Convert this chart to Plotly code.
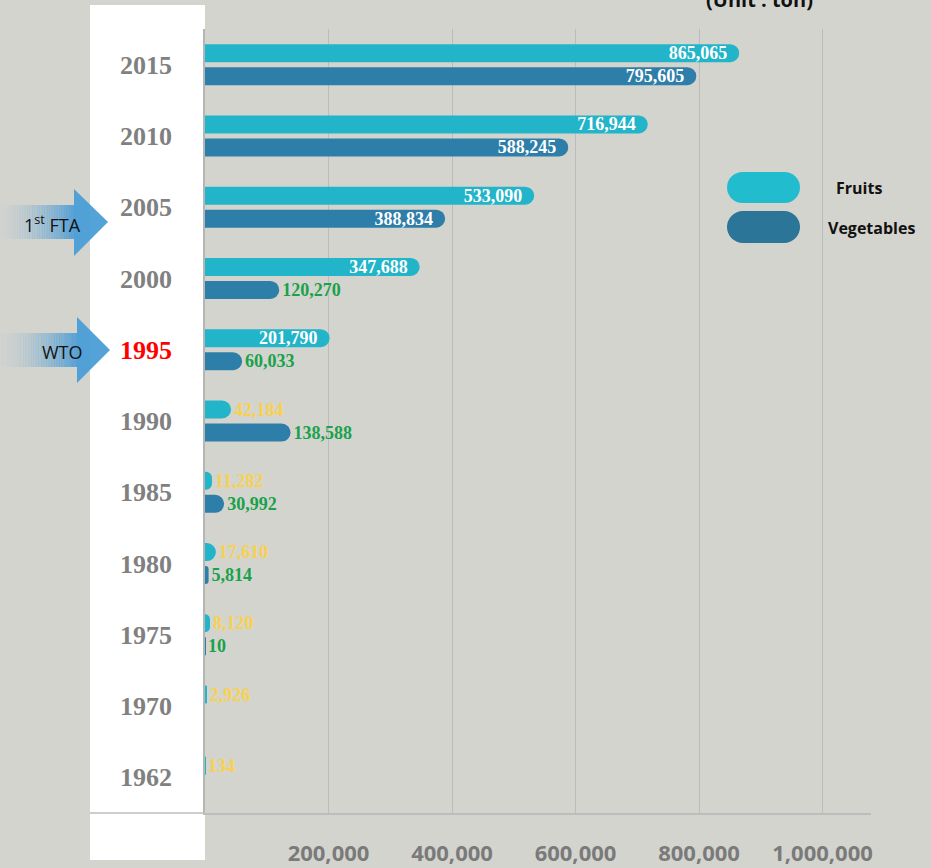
import plotly.graph_objects as go

# ---------------- data ----------------
years = ["1962", "1970", "1975", "1980", "1985", "1990", "1995", "2000", "2005", "2010", "2015"]
fruits = [134, 2926, 8120, 17610, 11282, 42184, 201790, 347688, 533090, 716944, 865065]
vegetables = [None, None, 10, 5814, 30992, 138588, 60033, 120270, 388834, 588245, 795605]
x_tickvals = [200000, 400000, 600000, 800000, 1000000]
x_ticktext = ["200,000", "400,000", "600,000", "800,000", "1,000,000"]
highlight_year = "1995"
inside_threshold = 150000

# ---------------- styling ----------------
BG = "#d4d4cf"
FRUIT_C = "#22b4c8"
VEG_C = "#2e7eaa"
YELLOW = "#f8d14e"
GREEN = "#18a24b"

PL, PT, PW, PH = 205, 29, 666, 784  # plot area in pixels
BAR_W = 0.2526
FRUIT_OFF = 0.035
VEG_OFF = -0.288


def px(xp):
    return (xp - PL) / PW


def py(yp):
    return (PT + PH - yp) / PH


def labels(vals):
    out = []
    for v in vals:
        if v is None:
            out.append("")
        elif v >= inside_threshold:
            out.append(f"{v:,}&nbsp;&nbsp;")
        else:
            out.append(f"{v:,}")
    return out


def positions(vals):
    return [("inside" if (v or 0) >= inside_threshold else "outside") for v in vals]


def colors(vals, outside_color):
    return [("white" if (v or 0) >= inside_threshold else outside_color) for v in vals]


fig = go.Figure()

for vals, name, col, out_col, off in [
    (vegetables, "Vegetables", VEG_C, GREEN, VEG_OFF),
    (fruits, "Fruits", FRUIT_C, YELLOW, FRUIT_OFF),
]:
    # visible rounded bar
    fig.add_trace(go.Bar(
        y=years, x=vals, orientation="h", name=name,
        width=BAR_W, offset=off,
        marker=dict(color=col, cornerradius="50%", line=dict(width=0)),
        showlegend=False, hoverinfo="skip",
    ))
    # label carrier (same bar geometry, transparent, square corners so text keeps its size)
    fig.add_trace(go.Bar(
        y=years, x=vals, orientation="h", name=name + " labels",
        width=BAR_W, offset=off,
        marker=dict(color="rgba(0,0,0,0)", line=dict(width=0)),
        text=labels(vals), textposition=positions(vals),
        insidetextanchor="end", constraintext="none", cliponaxis=False,
        textfont=dict(family="Liberation Serif", size=18, weight="bold", color=colors(vals, out_col)),
        showlegend=False,
    ))

ticktext_y = [(f'<span style="color:#ff0000">{y}</span>' if y == highlight_year else y) for y in years]

shapes = []
# white year panel
shapes.append(dict(type="rect", xref="paper", yref="paper", x0=px(90), x1=px(205), y0=py(860), y1=py(5),
                   fillcolor="white", line=dict(width=0), layer="below"))
shapes.append(dict(type="line", xref="paper", yref="paper", x0=px(90), x1=px(205), y0=py(813), y1=py(813),
                   line=dict(color="#bdbdbd", width=1.5), layer="above"))


def arrow(body_y0, body_y1, head_x0, tip_x, head_y0, tip_y, head_y1):
    n = 30
    x_start = 0
    for i in range(n):
        xa = x_start + (head_x0 - x_start) * i / n
        xb = x_start + (head_x0 - x_start) * (i + 1) / n
        op = 0.02 + 0.85 * ((i + 1) / n) ** 1.8
        shapes.append(dict(type="rect", xref="paper", yref="paper", x0=px(xa), x1=px(xb + 0.4),
                           y0=py(body_y1), y1=py(body_y0),
                           fillcolor=f"rgba(74,155,212,{op:.3f})", line=dict(width=0), layer="above"))
    path = f"M {px(head_x0)},{py(head_y0)} L {px(tip_x)},{py(tip_y)} L {px(head_x0)},{py(head_y1)} Z"
    shapes.append(dict(type="path", xref="paper", yref="paper", path=path,
                       fillcolor="rgba(74,158,215,0.95)", line=dict(width=0), layer="above"))


arrow(205, 239, 74, 108, 189, 222, 256)
arrow(333, 367, 77, 110, 317, 350, 383)


def pill(x0, x1, y0, y1, color):
    d = y1 - y0
    shapes.append(dict(type="rect", xref="paper", yref="paper", x0=px(x0 + d / 2), x1=px(x1 - d / 2),
                       y0=py(y1), y1=py(y0), fillcolor=color, line=dict(width=0)))
    shapes.append(dict(type="circle", xref="paper", yref="paper", x0=px(x0), x1=px(x0 + d),
                       y0=py(y1), y1=py(y0), fillcolor=color, line=dict(width=0)))
    shapes.append(dict(type="circle", xref="paper", yref="paper", x0=px(x1 - d), x1=px(x1),
                       y0=py(y1), y1=py(y0), fillcolor=color, line=dict(width=0)))


pill(727, 800, 172, 203, "#22bccf")
pill(727, 800, 211, 243, "#2a7598")


def note(text, xc, yc, size, bold=False, yanchor="middle"):
    return dict(text=text, xref="paper", yref="paper", x=px(xc), y=py(yc), showarrow=False,
                xanchor="center", yanchor=yanchor,
                font=dict(family="Open Sans", size=size, color="#111111",
                          weight="bold" if bold else "normal"))


annotations = [
    note("1<sup>st</sup> FTA", 52, 224, 18),
    note("WTO", 62, 352, 18),
    note("Fruits", 859, 188, 16, bold=True),
    note("Vegetables", 871, 228, 16, bold=True),
    note("(Unit : ton)", 759, 15, 20, bold=True, yanchor="bottom"),
]

fig.update_layout(
    width=931, height=868,
    margin=dict(l=PL, r=931 - PL - PW, t=PT, b=868 - PT - PH, autoexpand=False),
    paper_bgcolor=BG, plot_bgcolor=BG,
    barmode="overlay",
    shapes=shapes, annotations=annotations,
    xaxis=dict(range=[0, 1078500], tickvals=x_tickvals, ticktext=x_ticktext,
               showgrid=True, gridcolor="#bcbcbc", gridwidth=1, zeroline=False,
               showline=True, linecolor="#bdbdbd", linewidth=1.5,
               ticks="", ticklabelstandoff=20, automargin=False,
               tickfont=dict(family="Open Sans", size=22, color="#7a7a7a", weight="bold")),
    yaxis=dict(type="category", categoryorder="array", categoryarray=years,
               tickvals=years, ticktext=ticktext_y, range=[-0.5, len(years) - 0.5],
               showgrid=False, zeroline=False, showline=True, linecolor="#b5b5b5", linewidth=1.5,
               ticks="", ticklabelstandoff=26, automargin=False,
               tickfont=dict(family="Liberation Serif", size=26, color="#808080", weight="bold")),
)

fig.write_html(
    "out.html",
    config={"displayModeBar": False},
    post_script="document.body.style.margin='0';document.body.style.padding='0';"
                "document.body.style.background='" + BG + "';",
)
